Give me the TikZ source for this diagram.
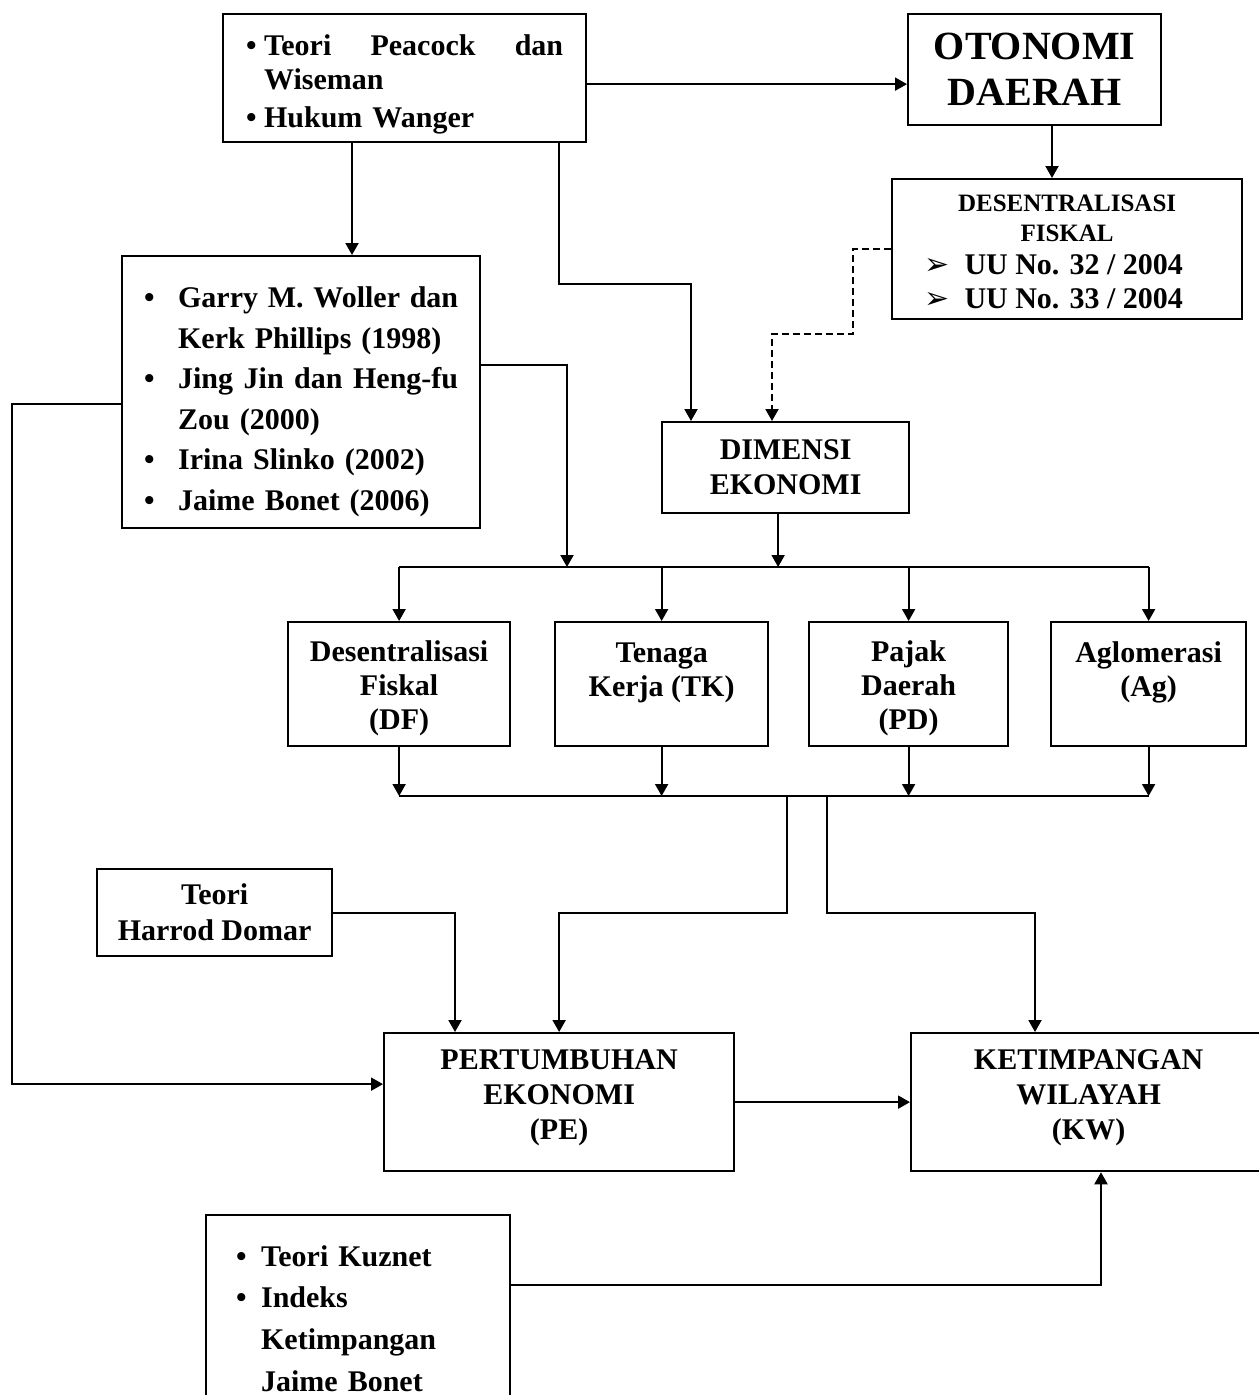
\documentclass[tikz,border=0pt]{standalone}
\usepackage{fontspec}
\setmainfont{Liberation Serif}
\newfontfamily\symfont{DejaVu Sans}
\usetikzlibrary{arrows.meta}
\newcommand{\bitem}[2]{\par\noindent\hangindent=#1\hangafter=1\makebox[#1][l]{\textbullet}#2}
\tikzset{
  box/.style={draw, line width=0.9pt, anchor=north west, inner sep=0pt,
    align=center, font=\bfseries\fontsize{12}{14}\selectfont},
  varbox/.style={box, minimum height=49.6pt,
    font=\bfseries\fontsize{12}{13.6}\selectfont},
  listbox/.style={draw, line width=0.9pt, anchor=north west, inner ysep=0pt,
    font=\bfseries\fontsize{12}{16.2}\selectfont},
  arr/.style={line width=0.8pt, -{Triangle[length=4.8pt,width=5.2pt]}},
  link/.style={line width=0.8pt},
}
\newcommand{\topstrut}[1]{\rule{0pt}{#1}}
\begin{document}
\begin{tikzpicture}[x=0.4pt,y=-0.4pt]
    \useasboundingbox (0,0) rectangle (1259,1395);
    \clip (0,0) rectangle (1259,1395);
    %% Boxes
    \node[listbox, text width=126.8pt, inner xsep=9.2pt, minimum height=51.2pt,
        font=\bfseries\fontsize{12}{13.6}\selectfont] (teori) at (222,13)
        {\bitem{7.2pt}{Teori\hfill Peacock\hfill dan\break Wiseman}\par\vspace{1.6pt}%
         \bitem{7.2pt}{Hukum Wanger}\par};
    \node[box, minimum width=101.2pt, minimum height=44.4pt,
        font=\bfseries\fontsize{16}{18.4}\selectfont] (otonomi) at (907,13)
        {OTONOMI\\DAERAH};
    \node[box, minimum width=140pt, minimum height=56pt,
        font=\bfseries\fontsize{10}{12}\selectfont] (desfis) at (891,178)
        {\topstrut{9pt}DESENTRALISASI\\FISKAL\\[1pt]
         {\fontsize{12}{12}\selectfont{\symfont\mdseries ➢}\ \ UU No. 32 / 2004\hspace{10.8pt}\mbox{}}\\[1.6pt]
         {\fontsize{12}{12}\selectfont{\symfont\mdseries ➢}\ \ UU No. 33 / 2004\hspace{10.8pt}\mbox{}}};
    \node[listbox, text width=125.6pt, inner xsep=8.8pt, minimum height=108.8pt]
        (riset) at (121,255)
        {\bitem{13.6pt}{Garry\hfill M.\hfill Woller\hfill dan\break Kerk Phillips (1998)}
         \bitem{13.6pt}{Jing\hfill Jin\hfill dan\hfill Heng-fu\break Zou (2000)}
         \bitem{13.6pt}{Irina Slinko (2002)}
         \bitem{13.6pt}{Jaime Bonet (2006)}\par};
    \node[box, minimum width=98.8pt, minimum height=36.4pt] (dimensi) at (661,421)
        {DIMENSI\\EKONOMI};
    \node[varbox, minimum width=88.8pt] (df) at (287,621)
        {\topstrut{11.6pt}Desentralisasi\\Fiskal\\(DF)};
    \node[varbox, minimum width=85.2pt] (tk) at (554,621)
        {\topstrut{10.2pt}Tenaga\\Kerja (TK)\\\mbox{}};
    \node[varbox, minimum width=79.6pt] (pd) at (808,621)
        {\topstrut{11.6pt}Pajak\\Daerah\\(PD)};
    \node[varbox, minimum width=78pt] (ag) at (1050,621)
        {\topstrut{10.2pt}Aglomerasi\\(Ag)\\\mbox{}};
    \node[box, minimum width=94pt, minimum height=34.8pt,
        font=\bfseries\fontsize{12}{14.4}\selectfont] (harrod) at (96,868)
        {Teori\\Harrod Domar};
    \node[box, minimum width=140pt, minimum height=55.2pt] (pe) at (383,1032)
        {PERTUMBUHAN\\EKONOMI\\(PE)\\[-8pt]\mbox{}};
    \node[box, minimum width=142pt, minimum height=55.2pt] (kw) at (910,1032)
        {KETIMPANGAN\\WILAYAH\\(KW)\\[-8pt]\mbox{}};
    \node[listbox, text width=97.6pt, inner xsep=12pt, minimum height=74.4pt,
        font=\bfseries\fontsize{12}{16.7}\selectfont] (kuznet) at (205,1214)
        {\bitem{10pt}{Teori Kuznet}%
         \bitem{10pt}{Indeks\hfil\break Ketimpangan\hfil\break Jaime Bonet}\par};
    %% Junctions
    \coordinate (topbus) at (0,567);
    \coordinate (lowbus) at (0,796);
    \coordinate (rail) at (12,700);
    \coordinate (tbjoin) at (567,0);
    \coordinate (dropPE) at (787,796);
    \coordinate (dropKW) at (827,796);
    \coordinate (midrow) at (0,913);
    %% Upper links
    \draw[arr] ([yshift=-2.4pt]teori.east) -- ([yshift=-2.4pt]teori.east -| otonomi.west);
    \draw[arr] ([xshift=58pt]otonomi.south west) -- ([xshift=58pt]otonomi.south west |- desfis.north);
    \draw[arr] ([xshift=52pt]teori.south west) -- ([xshift=52pt]teori.south west |- riset.north);
    \draw[arr] ([xshift=134.8pt]teori.south west) -- ++(0,141) -| ([xshift=12pt]dimensi.north west);
    \draw[arr, dash pattern=on 2.8pt off 1.6pt] (desfis.west) -- ++(-38,0) -- ++(0,85)
        -| ([xshift=44.4pt]dimensi.north west);
    \draw[arr] ([yshift=10.8pt]riset.east) -| (tbjoin |- topbus);
    \draw[arr] ([xshift=-3pt]dimensi.south) -- ([xshift=-3pt]dimensi.south |- topbus);
    %% Buses
    \draw[link] (df.north |- topbus) -- (ag.north |- topbus);
    \foreach \b in {df,tk,pd,ag} {
        \draw[arr] (\b.north |- topbus) -- (\b.north);
        \draw[arr] (\b.south) -- (\b.south |- lowbus);
    }
    \draw[link] (df.south |- lowbus) -- (ag.south |- lowbus);
    %% Lower links
    \draw[arr] (dropPE) -- (dropPE |- midrow) -| (pe.north);
    \draw[arr] (dropKW) -- (dropKW |- midrow) -| ([xshift=50pt]kw.north west);
    \draw[arr] (harrod.east) -| ([xshift=28.8pt]pe.north west);
    \draw[arr] ([yshift=-4.8pt]riset.west) -| (rail) |- ([yshift=7.2pt]pe.west);
    \draw[arr] (pe.east) -- (kw.west);
    \draw[arr] ([yshift=9.2pt]kuznet.east) -| ([xshift=76.4pt]kw.south west);
\end{tikzpicture}
\end{document}
